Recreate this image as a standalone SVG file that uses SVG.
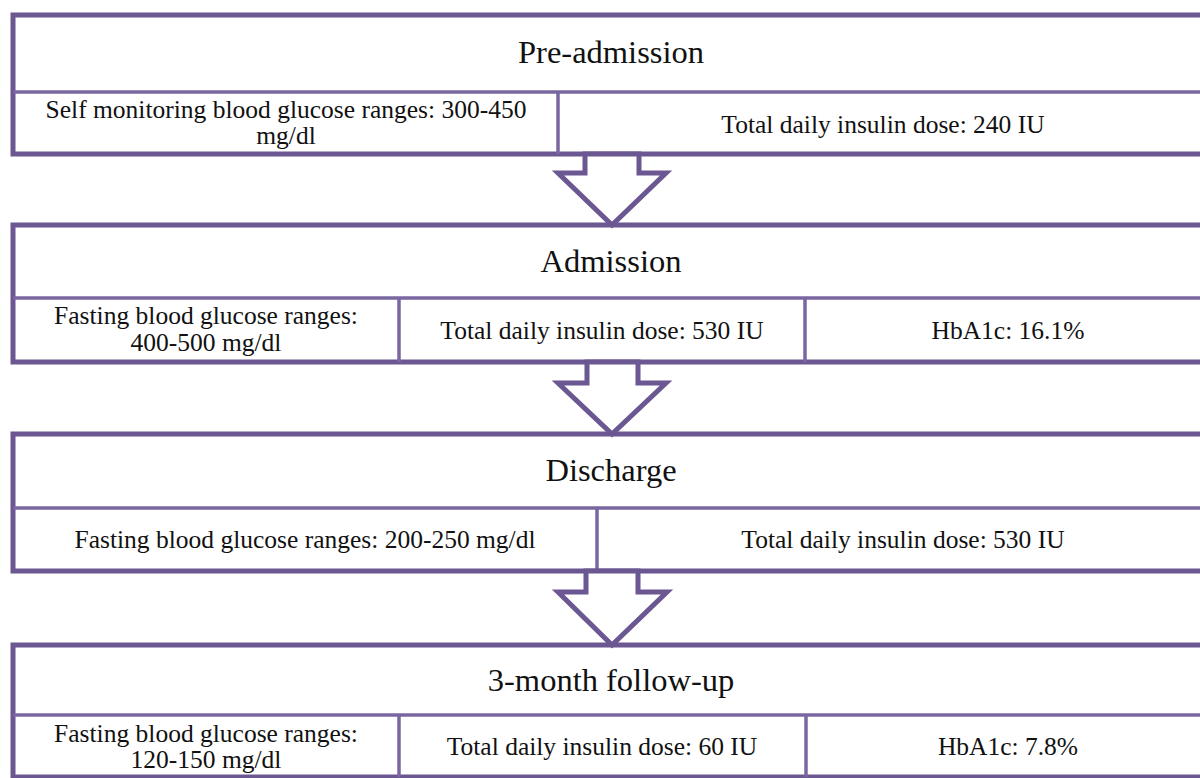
<svg xmlns="http://www.w3.org/2000/svg" width="1200" height="778" viewBox="0 0 1200 778">
<style>
.box{fill:#ffffff;stroke:#6b5791;stroke-width:5}
.div{stroke:#7a66a0;stroke-width:3.5;fill:none}
.arrow{fill:#ffffff;stroke:#6b5791;stroke-width:5;stroke-linejoin:miter}
.h{font-family:"Liberation Serif","Times New Roman",serif;font-size:32.5px;fill:#111;text-anchor:middle}
.t{font-family:"Liberation Serif","Times New Roman",serif;font-size:25.5px;fill:#111;text-anchor:middle}
</style>
<rect width="1200" height="778" fill="#ffffff"/>
<g id="pre-admission">
<rect class="box" x="13" y="15" width="1200" height="139"/>
<line class="div" x1="13" y1="92" x2="1213" y2="92"/>
<line class="div" x1="558" y1="92" x2="558" y2="154"/>
<text class="h" x="611" y="63">Pre-admission</text>
<text class="t" x="286" y="118">Self monitoring blood glucose ranges: 300-450</text>
<text class="t" x="286" y="144">mg/dl</text>
<text class="t" x="883" y="133">Total daily insulin dose: 240 IU</text>
</g>
<g id="admission">
<rect class="box" x="13" y="225" width="1200" height="137"/>
<line class="div" x1="13" y1="298" x2="1213" y2="298"/>
<line class="div" x1="399" y1="298" x2="399" y2="362"/>
<line class="div" x1="805" y1="298" x2="805" y2="362"/>
<text class="h" x="611" y="272">Admission</text>
<text class="t" x="206" y="324">Fasting blood glucose ranges:</text>
<text class="t" x="206" y="351">400-500 mg/dl</text>
<text class="t" x="602" y="339">Total daily insulin dose: 530 IU</text>
<text class="t" x="1008" y="339">HbA1c: 16.1%</text>
</g>
<g id="discharge">
<rect class="box" x="13" y="434" width="1200" height="137"/>
<line class="div" x1="13" y1="508" x2="1213" y2="508"/>
<line class="div" x1="597" y1="508" x2="597" y2="571"/>
<text class="h" x="611" y="481">Discharge</text>
<text class="t" x="305" y="548">Fasting blood glucose ranges: 200-250 mg/dl</text>
<text class="t" x="903" y="548">Total daily insulin dose: 530 IU</text>
</g>
<g id="follow-up">
<rect class="box" x="13" y="645" width="1200" height="132"/>
<line class="div" x1="13" y1="715" x2="1213" y2="715"/>
<line class="div" x1="399" y1="715" x2="399" y2="777"/>
<line class="div" x1="806" y1="715" x2="806" y2="777"/>
<text class="h" x="611" y="691">3-month follow-up</text>
<text class="t" x="206" y="742">Fasting blood glucose ranges:</text>
<text class="t" x="206" y="768">120-150 mg/dl</text>
<text class="t" x="602" y="755">Total daily insulin dose: 60 IU</text>
<text class="t" x="1008" y="755">HbA1c: 7.8%</text>
</g>
<g id="connectors">
<polygon class="arrow" points="585,154 585,173 558,173 612,225 666,173 639,173 639,154"/>
<polygon class="arrow" points="587,362 587,383 558,383 612,434 666,383 638,383 638,362"/>
<polygon class="arrow" points="586,571 586,592 558,592 612,645 667,592 638,592 638,571"/>
</g>
</svg>
